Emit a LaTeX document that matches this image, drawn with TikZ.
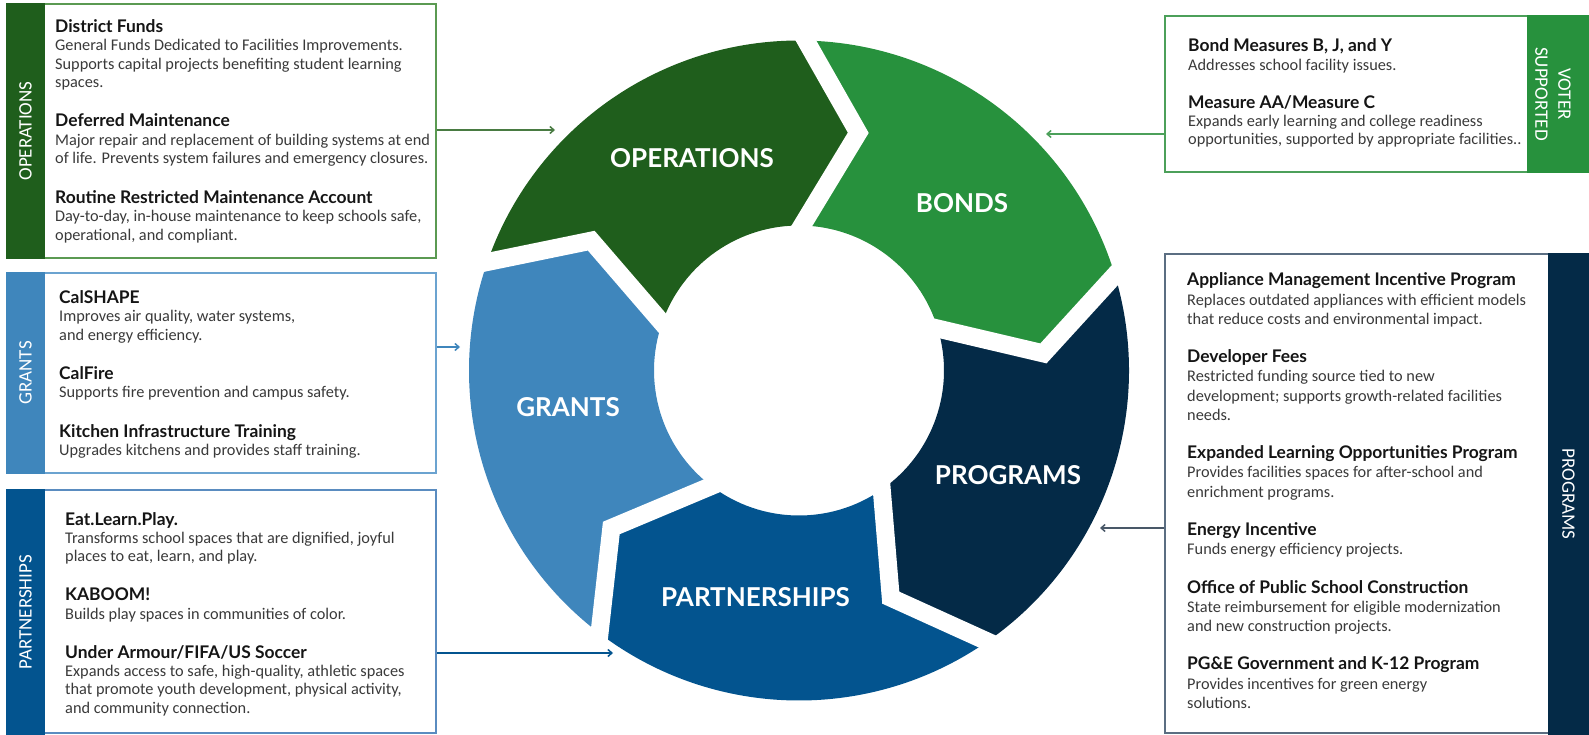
\documentclass[tikz,border=0pt]{standalone}
\usepackage{fontspec}
\setmainfont{Carlito}
\newfontfamily\latofont{Lato}
\usetikzlibrary{arrows.meta,calc,fit}
\definecolor{opsC}{HTML}{1F5E1C}
\definecolor{bondC}{HTML}{27913D}
\definecolor{progC}{HTML}{042A47}
\definecolor{partC}{HTML}{03548F}
\definecolor{grantC}{HTML}{3F86BC}
\definecolor{opsB}{HTML}{5B9A52}
\definecolor{bondB}{HTML}{4CA05A}
\definecolor{grantB}{HTML}{6BA3D0}
\definecolor{partB}{HTML}{5A8CC0}
\definecolor{progB}{HTML}{5B6E82}
\definecolor{bodytxt}{HTML}{3A3A3A}
\definecolor{headtxt}{HTML}{151515}
\newcommand\hd[1]{{\latofont\bfseries\fontsize{17.4bp}{18.4bp}\selectfont\color{headtxt}#1}}
\def\ringR{330}
\def\ringr{145}
\def\ringm{245}
\def\ringd{12.8}
\begin{document}
\begin{tikzpicture}[x=1bp,y=-1bp,
  body/.style={anchor=base west, align=left, inner sep=0, text=bodytxt, font=\fontsize{16.3bp}{18.4bp}\selectfont},
  side/.style={text=white, font=\fontsize{19bp}{23bp}\selectfont, inner sep=0, align=center},
  seglabel/.style={text=white, font=\latofont\bfseries\fontsize{26bp}{30bp}\selectfont, inner sep=0},
  frame/.style={inner sep=0, line width=1.5bp, fill=white},
  band/.style={inner sep=0},
  link/.style={line width=1.5bp, -{Straight Barb[length=4bp,width=7bp]}}
]
\useasboundingbox (0,0) rectangle (1589,735);

% ---------- ring ----------
\begin{scope}[shift={(799,370.5)}, yscale=-1]
\foreach \bt/\col in {160.8/opsC, 88.8/bondC, 16.8/progC, -55.2/partC, -127.2/grantC}{
  \pgfmathsetmacro\bl{\bt-72}
  \fill[\col] (\bt:\ringR) arc[start angle=\bt, end angle=\bl, radius=\ringR]
     -- ({\bl-\ringd}:\ringm) -- (\bl:\ringr)
     arc[start angle=\bl, end angle=\bt, radius=\ringr]
     -- ({\bt-\ringd}:\ringm) -- cycle;
}
\foreach \b in {160.8, 88.8, 16.8, -55.2, -127.2}{
  \draw[white, line width=18bp, line join=miter]
    ($({\b-\ringd}:\ringm)!1.25!(\b:\ringR)$) -- ({\b-\ringd}:\ringm)
    -- ($({\b-\ringd}:\ringm)!1.3!(\b:\ringr)$);
}
\end{scope}

\node[seglabel] (opsL) at (692,158) {OPERATIONS};
\node[seglabel] (bondL) at (962,203) {BONDS};
\node[seglabel] (progL) at (1008,475) {PROGRAMS};
\node[seglabel] (partL) at (755.5,597.5) {PARTNERSHIPS};
\node[seglabel] (grantL) at (568,406.7) {GRANTS};

% ---------- box 1: operations ----------
\node[frame, draw=opsB, fit={(7,4) (436,258)}] (box1) {};
\node[band, fill=opsC, fit={(6.2,3.2) (45,258.8)}] (band1) {};
\node[side, rotate=90] (lab1) at (band1.center) {OPERATIONS};
\node[body] (txt1) at (55,240) {\hd{District Funds}\\
General Funds Dedicated to Facilities Improvements.\\
Supports capital projects benefiting student learning\\
spaces.\\[21bp]
\hd{Deferred Maintenance}\\
Major repair and replacement of building systems at end\\
of life. Prevents system failures and emergency closures.\\[21bp]
\hd{Routine Restricted Maintenance Account}\\
Day-to-day, in-house maintenance to keep schools safe,\\
operational, and compliant.};

% ---------- box 2: grants ----------
\node[frame, draw=grantB, fit={(7,273) (436,473)}] (box2) {};
\node[band, fill=grantC, fit={(6.2,272.2) (45,473.8)}] (band2) {};
\node[side, rotate=90] (lab2) at (band2.center) {GRANTS};
\node[body] (txt2) at (59,455.7) {\hd{CalSHAPE}\\
Improves air quality, water systems,\\
and energy efficiency.\\[21bp]
\hd{CalFire}\\
Supports fire prevention and campus safety.\\[21bp]
\hd{Kitchen Infrastructure Training}\\
Upgrades kitchens and provides staff training.};

% ---------- box 3: partnerships ----------
\node[frame, draw=partB, fit={(7,490) (436,733)}] (box3) {};
\node[band, fill=partC, fit={(6.2,489.2) (45,735)}] (band3) {};
\node[side, rotate=90] (lab3) at (band3.center) {PARTNERSHIPS};
\node[body] (txt3) at (65,713.3) {\hd{Eat.Learn.Play.}\\
Transforms school spaces that are dignified, joyful\\
places to eat, learn, and play.\\[20.5bp]
\hd{KABOOM!}\\
Builds play spaces in communities of color.\\[20.5bp]
\hd{Under Armour/FIFA/US Soccer}\\
Expands access to safe, high-quality, athletic spaces\\
that promote youth development, physical activity,\\
and community connection.};

% ---------- box 4: bonds ----------
\node[frame, draw=bondB, fit={(1165,16) (1588,172)}] (box4) {};
\node[band, fill=bondC, fit={(1527,15.2) (1589,172.8)}] (band4) {};
\node[side, rotate=-90] (lab4) at (1553,94) {VOTER\\SUPPORTED};
\node[body] (txt4) at (1188,145) {\hd{Bond Measures B, J, and Y}\\
Addresses school facility issues.\\[19.7bp]
\hd{Measure AA/Measure C}\\
Expands early learning and college readiness\\
opportunities, supported by appropriate facilities..};

% ---------- box 5: programs ----------
\node[frame, draw=progB, fit={(1165,254) (1588,733)}] (box5) {};
\node[band, fill=progC, fit={(1548,253.2) (1589,735)}] (band5) {};
\node[side, rotate=-90] (lab5) at (band5.center) {PROGRAMS};
\node[body, font=\fontsize{16.3bp}{19.2bp}\selectfont] (txt5) at (1187,708.3) {\hd{Appliance Management Incentive Program}\\
Replaces outdated appliances with efficient models\\
that reduce costs and environmental impact.\\[19.2bp]
\hd{Developer Fees}\\
Restricted funding source tied to new\\
development; supports growth-related facilities\\
needs.\\[19.2bp]
\hd{Expanded Learning Opportunities Program}\\
Provides facilities spaces for after-school and\\
enrichment programs.\\[19.2bp]
\hd{Energy Incentive}\\
Funds energy efficiency projects.\\[19.2bp]
\hd{Office of Public School Construction}\\
State reimbursement for eligible modernization\\
and new construction projects.\\[19.2bp]
\hd{PG\&E Government and K-12 Program}\\
Provides incentives for green energy\\
solutions.};

% ---------- connectors ----------
\coordinate (tip1) at (555,130);
\coordinate (tip2) at (460,347);
\coordinate (tip3) at (613,653);
\coordinate (tip4) at (1046,134);
\coordinate (tip5) at (1100,528);
\draw[link, draw=opsB!80!black] (box1.east |- tip1) -- (tip1);
\draw[link, draw=grantC] (box2.east |- tip2) -- (tip2);
\draw[link, draw=partC] (box3.east |- tip3) -- (tip3);
\draw[link, draw=bondB] (box4.west |- tip4) -- (tip4);
\draw[link, draw=progB!80!black] (box5.west |- tip5) -- (tip5);
\end{tikzpicture}
\end{document}
